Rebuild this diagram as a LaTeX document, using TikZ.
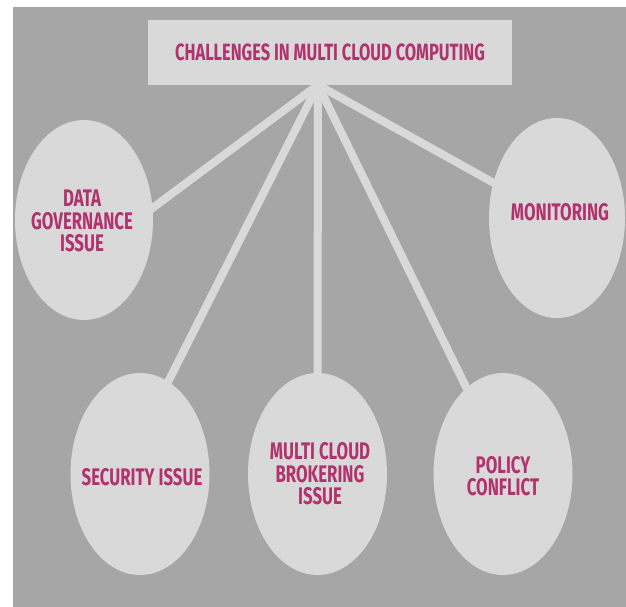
\documentclass[tikz,border=0pt]{standalone}
\usepackage{fontspec}
\setmainfont{Fira Sans}[FakeStretch=0.7]
\usetikzlibrary{shapes.geometric}
\definecolor{panelgray}{HTML}{A6A6A6}
\definecolor{shapegray}{HTML}{D9D9D9}
\definecolor{labelpink}{RGB}{178,50,110}
\begin{document}
\begin{tikzpicture}[x=1pt,y=-1pt,
  topic/.style={ellipse, fill=shapegray, draw=none, inner sep=0pt,
    minimum width=139pt, minimum height=202pt},
  caption/.style={text=labelpink, align=center, inner sep=0pt,
    font=\fontsize{24}{22.5}\selectfont\bfseries},
  spoke/.style={draw=shapegray, line width=8pt, shorten >=-8pt}]
\useasboundingbox (0,0) rectangle (626,607);
% panel
\fill[panelgray] (13,7) rectangle (626,607);

% title box and hub
\node[fill=shapegray, minimum width=364pt, minimum height=65pt, inner sep=0pt,
      caption, font=\fontsize{23.5}{22}\selectfont\bfseries] (title) at (330,52.5)
      {CHALLENGES IN MULTI CLOUD COMPUTING};
\coordinate (hub) at (318,85);

% topic ellipses
\node[topic, minimum width=138pt, minimum height=200pt] (gov) at (84,220) {};
\node[topic, minimum width=136pt, minimum height=200pt] (mon) at (557,218) {};
\node[topic] (sec) at (140,474) {};
\node[topic] (brk) at (317.5,474) {};
\node[topic] (pol) at (503,474) {};

% captions
\node[caption] (gov-t) at (82,221) {DATA\\GOVERNANCE\\ISSUE};
\node[caption] (mon-t) at (560,212) {MONITORING};
\node[caption] (sec-t) at (142,477) {SECURITY ISSUE};
\node[caption] (brk-t) at (320,474) {MULTI CLOUD\\BROKERING\\ISSUE};
\node[caption] (pol-t) at (503,476) {POLICY\\CONFLICT};

% spokes from the hub
\draw[spoke] (hub) -- (gov.10);
\draw[spoke] (hub) -- (sec.73);
\draw[spoke] (hub) -- (brk.north);
\draw[spoke] (hub) -- (pol.113);
\draw[spoke] (hub) -- (mon.151);
\end{tikzpicture}
\end{document}
